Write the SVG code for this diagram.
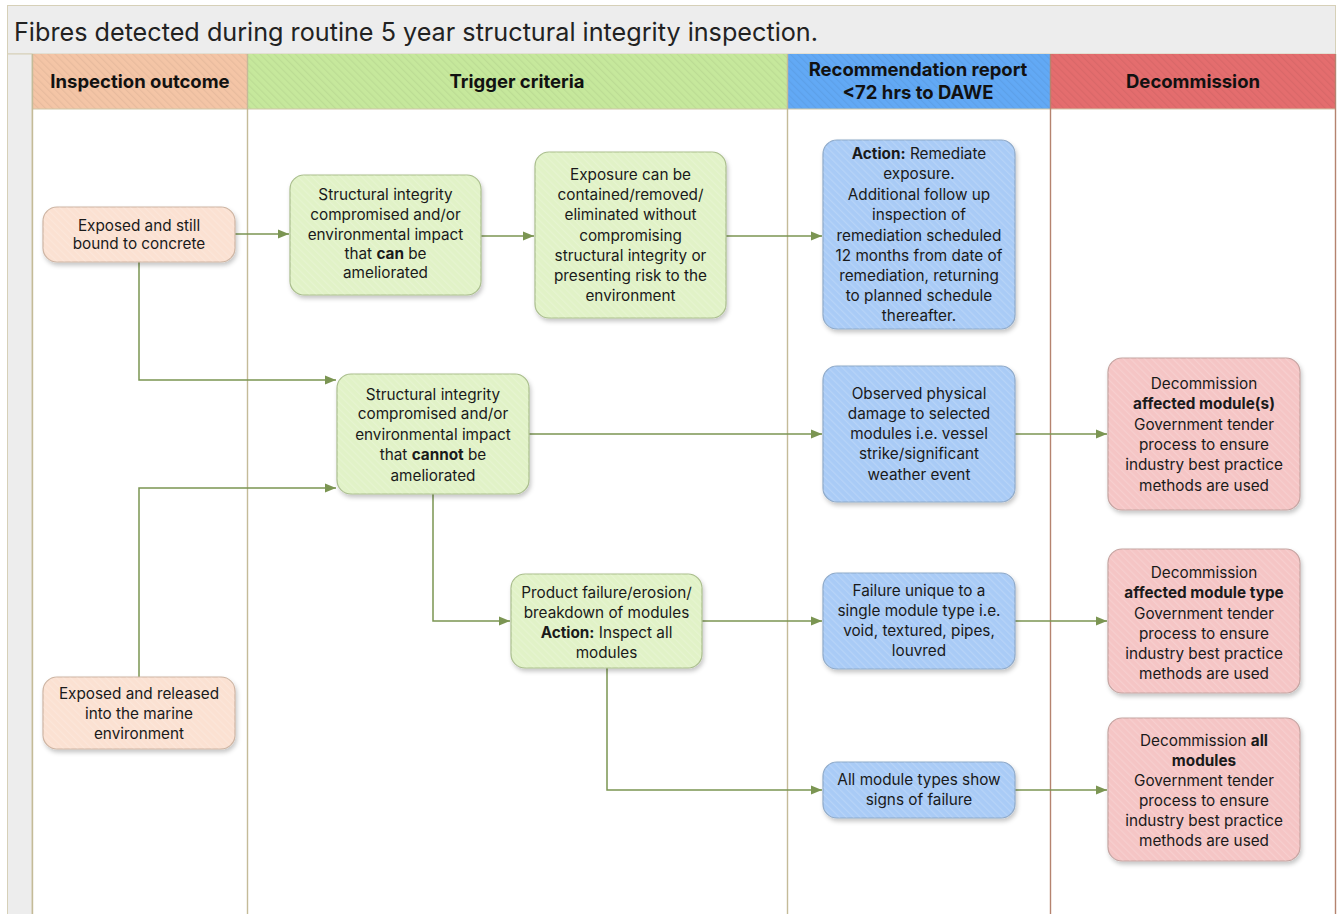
<svg xmlns="http://www.w3.org/2000/svg" width="1343" height="914" viewBox="0 0 1343 914">
<style>
text{font-family:Inter,"Open Sans",sans-serif;fill:#1a1a1a}
.t{font-size:15.3px;text-anchor:middle}
.h{font-size:18.5px;font-weight:bold;text-anchor:middle;fill:#111}
.b{font-weight:bold}
.conn{fill:none;stroke:#7b9552;stroke-width:1.5}
.peach{fill:#fbe1d2;stroke:#cdb4a2}
.green{fill:#e1f2c7;stroke:#a9bd8c}
.blue{fill:#a9cbf6;stroke:#8ea9c8}
.red{fill:#f5c5c5;stroke:#c4a3a0}
.node rect.base{stroke-width:1.2;filter:url(#sh)}
</style>
<defs>
<pattern id="hatch" width="5" height="5" patternUnits="userSpaceOnUse" patternTransform="rotate(-45)">
<rect x="0" y="0" width="1.2" height="5" fill="#ffffff" fill-opacity="0.16"/>
</pattern>
<pattern id="hatchh" width="5" height="5" patternUnits="userSpaceOnUse" patternTransform="rotate(-45)">
<rect x="0" y="0" width="1.2" height="5" fill="#000000" fill-opacity="0.05"/>
</pattern>
<filter id="sh" x="-10%" y="-10%" width="125%" height="130%">
<feDropShadow dx="1.5" dy="3" stdDeviation="2" flood-color="#000" flood-opacity="0.22"/>
</filter>
<marker id="arr" markerUnits="userSpaceOnUse" markerWidth="12" markerHeight="10" refX="11" refY="5" orient="auto">
<path d="M0,0.5 L11,5 L0,9.5 z" fill="#7b9552"/>
</marker>
</defs>

<rect width="1343" height="914" fill="#ffffff"/>

<g id="frame">
<rect x="7.5" y="5.5" width="1328" height="920" fill="#ffffff" stroke="#d6d0b8" stroke-width="1"/>
<rect x="7.5" y="5.5" width="1328" height="48.5" fill="#ededed" stroke="#d6d0b8" stroke-width="1"/>
<text x="14" y="40.5" style="font-size:25.2px;fill:#222">Fibres detected during routine 5 year structural integrity inspection.</text>
<rect x="7.5" y="54" width="24.5" height="870" fill="#ededed" stroke="#d6d0b8" stroke-width="1"/>
</g>

<g id="lanes">
<rect x="32" y="54" width="215" height="55" fill="#f4c5a6"/>
<rect x="247" y="54" width="540" height="55" fill="#c6e89c"/>
<rect x="787" y="54" width="263" height="55" fill="#62a9f5"/>
<rect x="1050" y="54" width="286" height="55" fill="#e46d6e"/>
<rect x="32" y="54" width="1304" height="55" fill="url(#hatchh)"/>
<line x1="32" y1="109" x2="1336" y2="109" stroke="#cfc6a6" stroke-width="1"/>
<line x1="32.5" y1="54" x2="32.5" y2="920" stroke="#c4bb98" stroke-width="1.4"/>
<line x1="247.5" y1="54" x2="247.5" y2="920" stroke="#c4bb98" stroke-width="1.4"/>
<line x1="787.5" y1="54" x2="787.5" y2="920" stroke="#c4bb98" stroke-width="1.4"/>
<line x1="1050.5" y1="54" x2="1050.5" y2="920" stroke="#b5836f" stroke-width="1.4"/>
<line x1="1335.5" y1="54" x2="1335.5" y2="920" stroke="#b5836f" stroke-width="1.4"/>
<text class="h" x="140" y="88">Inspection outcome</text>
<text class="h" x="517" y="88">Trigger criteria</text>
<text class="h" x="918" y="76">Recommendation report</text>
<text class="h" x="918" y="99">&lt;72 hrs to DAWE</text>
<text class="h" x="1193" y="88">Decommission</text>
</g>

<g id="connectors">
<path class="conn" d="M235,234 H289" marker-end="url(#arr)"/>
<path class="conn" d="M481,236 H534" marker-end="url(#arr)"/>
<path class="conn" d="M726,236 H822" marker-end="url(#arr)"/>
<path class="conn" d="M139,262 V380 H336" marker-end="url(#arr)"/>
<path class="conn" d="M139,677 V488 H336" marker-end="url(#arr)"/>
<path class="conn" d="M529,434 H822" marker-end="url(#arr)"/>
<path class="conn" d="M1015,434 H1107" marker-end="url(#arr)"/>
<path class="conn" d="M433,494 V621 H510" marker-end="url(#arr)"/>
<path class="conn" d="M702,621 H822" marker-end="url(#arr)"/>
<path class="conn" d="M1015,621 H1107" marker-end="url(#arr)"/>
<path class="conn" d="M607,668 V790 H822" marker-end="url(#arr)"/>
<path class="conn" d="M1015,790 H1107" marker-end="url(#arr)"/>
</g>

<g id="n1" class="node">
<rect class="base peach" x="43" y="207" width="192" height="55" rx="14"/>
<rect x="43" y="207" width="192" height="55" rx="14" fill="url(#hatch)"/>
<text class="t" x="139" y="230.5">Exposed and still</text>
<text class="t" x="139" y="249">bound to concrete</text>
</g>

<g id="n2" class="node">
<rect class="base green" x="290" y="175" width="191" height="120" rx="14"/>
<rect x="290" y="175" width="191" height="120" rx="14" fill="url(#hatch)"/>
<text class="t" x="385.5" y="199.5">Structural integrity</text>
<text class="t" x="385.5" y="219.5">compromised and/or</text>
<text class="t" x="385.5" y="239.5">environmental impact</text>
<text class="t" x="385.5" y="258.5">that <tspan class="b">can</tspan> be</text>
<text class="t" x="385.5" y="277.5">ameliorated</text>
</g>

<g id="n3" class="node">
<rect class="base green" x="535" y="152" width="191" height="166" rx="14"/>
<rect x="535" y="152" width="191" height="166" rx="14" fill="url(#hatch)"/>
<text class="t" x="630.5" y="179.5">Exposure can be</text>
<text class="t" x="630.5" y="200">contained/removed/</text>
<text class="t" x="630.5" y="220">eliminated without</text>
<text class="t" x="630.5" y="240.5">compromising</text>
<text class="t" x="630.5" y="260.5">structural integrity or</text>
<text class="t" x="630.5" y="280.5">presenting risk to the</text>
<text class="t" x="630.5" y="301">environment</text>
</g>

<g id="n4" class="node">
<rect class="base blue" x="823" y="140" width="192" height="189" rx="14"/>
<rect x="823" y="140" width="192" height="189" rx="14" fill="url(#hatch)"/>
<text class="t" x="919" y="158.5"><tspan class="b">Action:</tspan> Remediate</text>
<text class="t" x="919" y="178.8">exposure.</text>
<text class="t" x="919" y="199.5">Additional follow up</text>
<text class="t" x="919" y="219.8">inspection of</text>
<text class="t" x="919" y="240.5">remediation scheduled</text>
<text class="t" x="919" y="260.5">12 months from date of</text>
<text class="t" x="919" y="280.8">remediation, returning</text>
<text class="t" x="919" y="301.2">to planned schedule</text>
<text class="t" x="919" y="321.2">thereafter.</text>
</g>

<g id="n5" class="node">
<rect class="base green" x="337" y="374" width="192" height="120" rx="14"/>
<rect x="337" y="374" width="192" height="120" rx="14" fill="url(#hatch)"/>
<text class="t" x="433" y="399.5">Structural integrity</text>
<text class="t" x="433" y="419">compromised and/or</text>
<text class="t" x="433" y="439.5">environmental impact</text>
<text class="t" x="433" y="460">that <tspan class="b">cannot</tspan> be</text>
<text class="t" x="433" y="480.5">ameliorated</text>
</g>

<g id="n6" class="node">
<rect class="base blue" x="823" y="366" width="192" height="136" rx="14"/>
<rect x="823" y="366" width="192" height="136" rx="14" fill="url(#hatch)"/>
<text class="t" x="919" y="399">Observed physical</text>
<text class="t" x="919" y="418.5">damage to selected</text>
<text class="t" x="919" y="438.5">modules i.e. vessel</text>
<text class="t" x="919" y="459">strike/significant</text>
<text class="t" x="919" y="479.5">weather event</text>
</g>

<g id="n7" class="node">
<rect class="base red" x="1108" y="358" width="192" height="152" rx="14"/>
<rect x="1108" y="358" width="192" height="152" rx="14" fill="url(#hatch)"/>
<text class="t" x="1204" y="388.5">Decommission</text>
<text class="t b" x="1204" y="409">affected module(s)</text>
<text class="t" x="1204" y="429.5">Government tender</text>
<text class="t" x="1204" y="449.5">process to ensure</text>
<text class="t" x="1204" y="470">industry best practice</text>
<text class="t" x="1204" y="490.5">methods are used</text>
</g>

<g id="n8" class="node">
<rect class="base green" x="511" y="574" width="191" height="94" rx="14"/>
<rect x="511" y="574" width="191" height="94" rx="14" fill="url(#hatch)"/>
<text class="t" x="606.5" y="597.5">Product failure/erosion/</text>
<text class="t" x="606.5" y="617.5">breakdown of modules</text>
<text class="t" x="606.5" y="637.5"><tspan class="b">Action:</tspan> Inspect all</text>
<text class="t" x="606.5" y="657.5">modules</text>
</g>

<g id="n9" class="node">
<rect class="base blue" x="823" y="573" width="192" height="96" rx="14"/>
<rect x="823" y="573" width="192" height="96" rx="14" fill="url(#hatch)"/>
<text class="t" x="919" y="595.5">Failure unique to a</text>
<text class="t" x="919" y="615.5">single module type i.e.</text>
<text class="t" x="919" y="636">void, textured, pipes,</text>
<text class="t" x="919" y="656">louvred</text>
</g>

<g id="n10" class="node">
<rect class="base red" x="1108" y="549" width="192" height="144" rx="14"/>
<rect x="1108" y="549" width="192" height="144" rx="14" fill="url(#hatch)"/>
<text class="t" x="1204" y="577.5">Decommission</text>
<text class="t b" x="1204" y="597.5">affected module type</text>
<text class="t" x="1204" y="618.5">Government tender</text>
<text class="t" x="1204" y="638.5">process to ensure</text>
<text class="t" x="1204" y="658.5">industry best practice</text>
<text class="t" x="1204" y="678.5">methods are used</text>
</g>

<g id="n11" class="node">
<rect class="base blue" x="823" y="762" width="192" height="56" rx="14"/>
<rect x="823" y="762" width="192" height="56" rx="14" fill="url(#hatch)"/>
<text class="t" x="919" y="784.5">All module types show</text>
<text class="t" x="919" y="804.5">signs of failure</text>
</g>

<g id="n12" class="node">
<rect class="base red" x="1108" y="718" width="192" height="143" rx="14"/>
<rect x="1108" y="718" width="192" height="143" rx="14" fill="url(#hatch)"/>
<text class="t" x="1204" y="745.5">Decommission <tspan class="b">all</tspan></text>
<text class="t b" x="1204" y="765.5">modules</text>
<text class="t" x="1204" y="785.5">Government tender</text>
<text class="t" x="1204" y="805.5">process to ensure</text>
<text class="t" x="1204" y="825.5">industry best practice</text>
<text class="t" x="1204" y="845.5">methods are used</text>
</g>

<g id="n13" class="node">
<rect class="base peach" x="43" y="677" width="192" height="72" rx="14"/>
<rect x="43" y="677" width="192" height="72" rx="14" fill="url(#hatch)"/>
<text class="t" x="139" y="699">Exposed and released</text>
<text class="t" x="139" y="718.5">into the marine</text>
<text class="t" x="139" y="738.5">environment</text>
</g>
</svg>
